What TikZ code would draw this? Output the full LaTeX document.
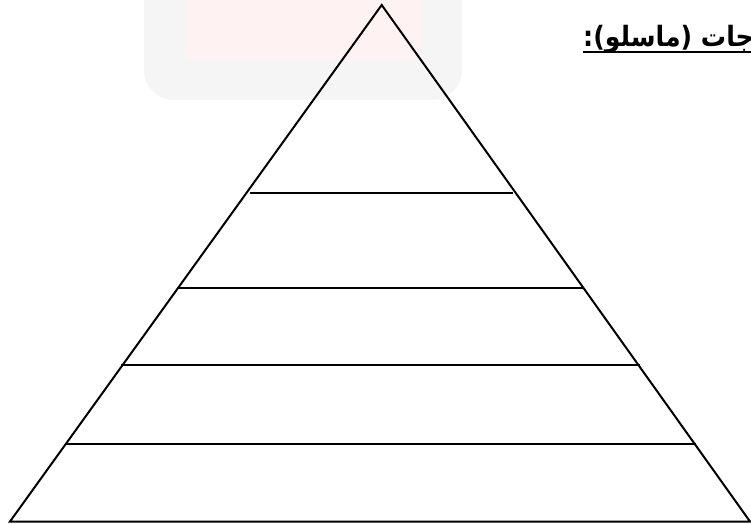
\documentclass[tikz,border=0pt]{standalone}
\usepackage{fontspec}
\TeXXeTstate=1
\newfontfamily\arabicfont[Script=Arabic]{DejaVu Sans Condensed}
\begin{document}
\begin{tikzpicture}[x=1pt,y=-1pt,
  edge/.style={line width=2pt, line join=miter},
  level/.style={line width=2.8pt},
  wm/.style={fill=black!4}]
\useasboundingbox (0,0) rectangle (751,523);
% faint watermark background
\fill[wm, rounded corners=30pt] (144,-40) rectangle (462,100);
\fill[red!5] (187,-5) rectangle (421,60);
% pyramid
\coordinate (apex) at (381.7,5);
\coordinate (bl) at (10,521.5);
\coordinate (br) at (750,521.5);
\draw[edge] (bl) -- (apex) -- (br) -- cycle;
\coordinate (l1a) at (250,193); \coordinate (l1b) at (513,193);
\coordinate (l2a) at (177,288); \coordinate (l2b) at (584,288);
\coordinate (l3a) at (121,365); \coordinate (l3b) at (640,365);
\coordinate (l4a) at (65,444);  \coordinate (l4b) at (696,444);
\draw[level] (l1a) -- (l1b);
\draw[level] (l2a) -- (l2b);
\draw[level] (l3a) -- (l3b);
\draw[level] (l4a) -- (l4b);
% title (cut by the right edge, as in the reference)
\begin{scope}
\clip (0,0) rectangle (751,523);
\node[anchor=base west, inner sep=0pt, font=\arabicfont\bfseries\fontsize{28}{34}\selectfont] (title) at (583,46.5) {\beginR الحاجات (ماسلو):\endR};
\coordinate (ul) at (583,52);
\draw[line width=2.2pt] (ul) -- (title.east |- ul);
\end{scope}
\end{tikzpicture}
\end{document}
